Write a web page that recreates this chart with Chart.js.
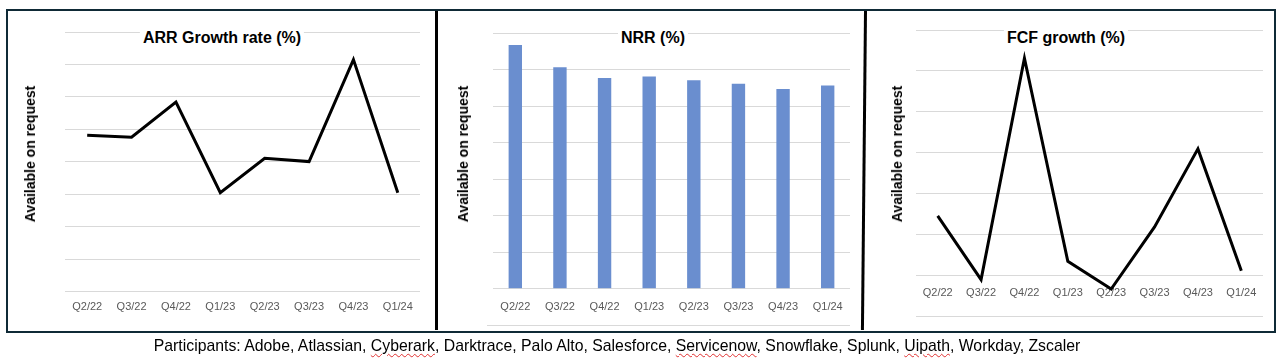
<!DOCTYPE html>
<html>
<head>
<meta charset="utf-8">
<script src="https://cdn.jsdelivr.net/npm/chart.js@4"></script>
<style>
  body { margin: 0; background: #fff; width: 1284px; height: 360px; position: relative; overflow: hidden; font-family: "Liberation Sans", Arial, sans-serif; }
  .frame { position: absolute; left: 6px; top: 9px; width: 1266px; height: 320px; border: 2.5px solid #0f2a36; }
  .divider { position: absolute; background: #000; }
  canvas { position: absolute; }
  .title { position: absolute; font-weight: bold; font-size: 16px; color: #000; background: #fff; padding: 0 3px; transform: translate(-50%, -50%); white-space: nowrap; }
  .ytitle { position: absolute; font-weight: bold; font-size: 14px; color: #000; transform: translate(-50%, -50%) rotate(-90deg); white-space: nowrap; }
  .footer { position: absolute; left: 617px; top: 346px; font-size: 17px; color: #000; white-space: nowrap; transform: translate(-50%, -50%) scaleX(0.93); }
  .sp { text-decoration: underline wavy #e03030; text-decoration-thickness: 1px; text-underline-offset: 2px; }
  .hline { position: absolute; height: 1px; background: #d9d9d9; }
</style>
</head>
<body>
<div class="frame"></div>
<div class="divider" style="left:435px; top:11px; width:3px; height:319px;"></div>
<div class="divider" style="left:864px; top:11px; width:3px; height:319px; transform: skewX(-0.55deg); transform-origin: top left;"></div>

<canvas id="arrChart" style="left:9px; top:12px;" width="426" height="317"></canvas>
<canvas id="nrrChart" style="left:438px; top:12px;" width="424" height="317"></canvas>
<canvas id="fcfChart" style="left:868px; top:12px;" width="404" height="317"></canvas>

<div class="hline" style="left:487px; top:325px; width:363px;"></div>

<div class="title" style="left:222px; top:38px;">ARR Growth rate (%)</div>
<div class="title" style="left:653px; top:38px;">NRR (%)</div>
<div class="title" style="left:1066px; top:38px;">FCF growth (%)</div>

<div class="ytitle" style="left:30px; top:154px;">Available on request</div>
<div class="ytitle" style="left:463px; top:154px;">Available on request</div>
<div class="ytitle" style="left:897px; top:154px;">Available on request</div>

<div class="footer">Participants: Adobe, Atlassian, <span class="sp">Cyberark</span>, Darktrace, Palo Alto, Salesforce, <span class="sp">Servicenow</span>, Snowflake, Splunk, <span class="sp">Uipath</span>, Workday, Zscaler</div>

<script>
// quarters shared by all three panels
const quarters = ["Q2/22", "Q3/22", "Q4/22", "Q1/23", "Q2/23", "Q3/23", "Q4/23", "Q1/24"];

// values (axes have no numbers, so units are grid steps)
const arrGrowth = [4.82, 4.76, 5.84, 3.05, 4.11, 4.01, 7.15, 3.05];
const nrrValues = [6.67, 6.06, 5.77, 5.81, 5.71, 5.61, 5.47, 5.56];
const fcfGrowth = [1.45, -0.11, 5.31, 0.34, -0.34, 1.18, 3.09, 0.11];

const gridGrey = "#d9d9d9";
const tickGrey = "#595959";
const tickFont = { family: "'Liberation Sans Narrow', 'Liberation Sans', Arial", size: 11 };

Chart.defaults.animation = false;
Chart.defaults.plugins.legend.display = false;
Chart.defaults.plugins.tooltip.enabled = false;

function yAxis(min, max) {
  return {
    min: min,
    max: max,
    ticks: { display: false, stepSize: 1 },
    grid: { color: gridGrey, drawTicks: false, lineWidth: 1 },
    border: { display: false },
  };
}

function xAxis(pad, extra) {
  return Object.assign({
    offset: true,
    ticks: { color: tickGrey, font: tickFont, padding: pad, maxRotation: 0 },
    grid: { display: false, drawTicks: false },
    border: { display: false },
  }, extra || {});
}

// ARR growth
new Chart(document.getElementById("arrChart"), {
  type: "line",
  data: {
    labels: quarters,
    datasets: [
      {
        data: arrGrowth,
        borderColor: "#000",
        borderWidth: 3,
        pointRadius: 0,
        tension: 0,
      },
    ],
  },
  options: {
    responsive: false,
    layout: { padding: { left: 56, right: 15, top: 20, bottom: 6 } },
    scales: {
      x: xAxis(9),
      y: yAxis(0, 8),
    },
  },
});

// NRR
new Chart(document.getElementById("nrrChart"), {
  type: "bar",
  data: {
    labels: quarters,
    datasets: [
      {
        data: nrrValues,
        backgroundColor: "#6a8ecf",
        categoryPercentage: 1,
        barPercentage: 0.3,
      },
    ],
  },
  options: {
    responsive: false,
    layout: { padding: { left: 55, right: 12, top: 21, bottom: 3 } },
    scales: {
      x: xAxis(12),
      y: yAxis(0, 7),
    },
  },
});

// FCF growth - labels sit on the zero line like in the original
new Chart(document.getElementById("fcfChart"), {
  type: "line",
  data: {
    labels: quarters,
    datasets: [
      {
        data: fcfGrowth,
        borderColor: "#000",
        borderWidth: 3,
        pointRadius: 0,
        tension: 0,
      },
    ],
  },
  options: {
    responsive: false,
    layout: { padding: { left: 48, right: 9, top: 18, bottom: 13 } },
    scales: {
      x: xAxis(11, { position: { y: 0 } }),
      y: yAxis(-1, 6),
    },
  },
});
</script>
</body>
</html>
